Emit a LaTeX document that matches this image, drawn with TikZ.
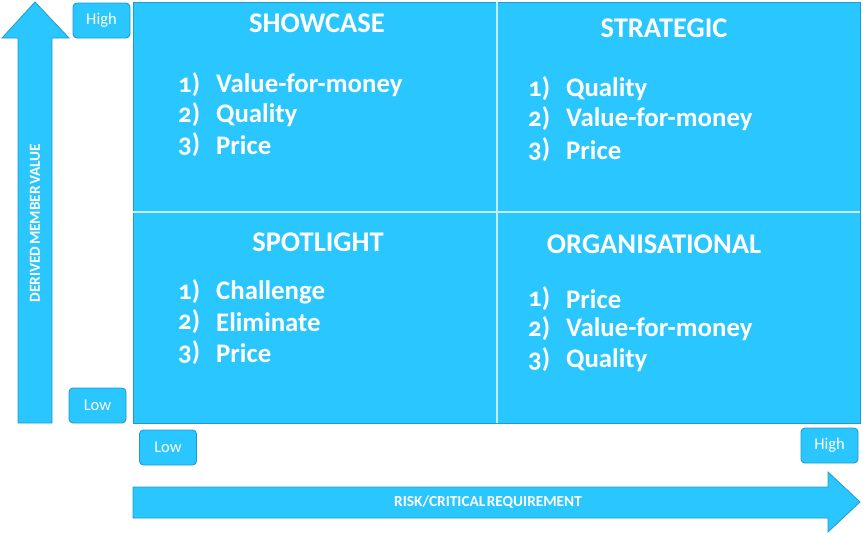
\documentclass[tikz,border=0pt]{standalone}
\usepackage{fontspec}
\setmainfont{Carlito}[Numbers=OldStyle]
\definecolor{qfill}{HTML}{29C6FF}
\definecolor{qline}{HTML}{1E9CCB}
\definecolor{divl}{HTML}{C4EEFF}
\newcommand\tightsp{\spaceskip=1.5pt\relax}
\begin{document}
\begin{tikzpicture}[x=1pt,y=-1pt,
  quad/.style={fill=qfill,draw=qline,line width=0.8pt},
  tag/.style={fill=qfill,draw=qline,line width=0.9pt,rounded corners=4pt,minimum width=57pt,minimum height=35pt,text=white,font=\fontsize{16.5}{18}\selectfont,inner sep=0pt},
  head/.style={text=white,font=\bfseries\fontsize{28.5}{31}\selectfont,anchor=center},
  item/.style={text=white,font=\bfseries\fontsize{26.8}{30}\selectfont,anchor=west,inner sep=0pt},
  arr/.style={fill=qfill,draw=qline,line width=0.8pt},
  axlab/.style={text=white,font=\bfseries\fontsize{15.3}{17}\selectfont}]
\useasboundingbox (0,0) rectangle (863,533);
% quadrants
\draw[quad] (133,2) rectangle (860,423);
\draw[divl,line width=2.5pt] (497,2) -- (497,423);
\draw[divl,line width=2.5pt] (133,212) -- (860,212);
% vertical arrow
\draw[arr] (18,423) -- (18,38) -- (2,38) -- (35,2) -- (69,38) -- (52,38) -- (52,423) -- cycle;
\node[axlab,rotate=90] (ylab) at (35,223) {\tightsp DERIVED MEMBER VALUE};
% horizontal arrow
\draw[arr] (133,487) -- (828,487) -- (828,472) -- (860,502) -- (828,532) -- (828,518) -- (133,518) -- cycle;
\node[axlab] (xlab) at (488,502) {\tightsp RISK/CRITICAL REQUIREMENT};
% tags
\node[tag] (yhigh) at (101.5,20.5) {High};
\node[tag] (ylow) at (97.5,405.5) {Low};
\node[tag] (xlow) at (168,447.5) {Low};
\node[tag] (xhigh) at (829.5,445.5) {High};
% headings
\node[head] (h1) at (317,23) {SHOWCASE};
\node[head] (h2) at (664,28) {STRATEGIC};
\node[head] (h3) at (318,242) {SPOTLIGHT};
\node[head] (h4) at (654,244) {ORGANISATIONAL};
% items
\foreach \n/\x/\y/\t in {a1/178/85/1),a2/178/115/2),a3/178/145/3),
  b1/528/89/1),b2/528/119/2),b3/528/150/3),
  c1/178/292/1),c2/178/322/2),c3/178/353/3),
  d1/528/299/1),d2/528/329/2),d3/528/360/3)}
  \node[item] (n\n) at (\x,\y) {\t};
\node[item] (ta1) at (216,85) {Value-for-money};
\node[item] (ta2) at (216,115) {Quality};
\node[item] (ta3) at (216,145) {Price};
\node[item] (tb1) at (566,89) {Quality};
\node[item] (tb2) at (566,119) {Value-for-money};
\node[item] (tb3) at (566,150) {Price};
\node[item] (tc1) at (216,292) {Challenge};
\node[item] (tc2) at (216,322) {Eliminate};
\node[item] (tc3) at (216,353) {Price};
\node[item] (td1) at (566,299) {Price};
\node[item] (td2) at (566,329) {Value-for-money};
\node[item] (td3) at (566,360) {Quality};
\end{tikzpicture}
\end{document}
